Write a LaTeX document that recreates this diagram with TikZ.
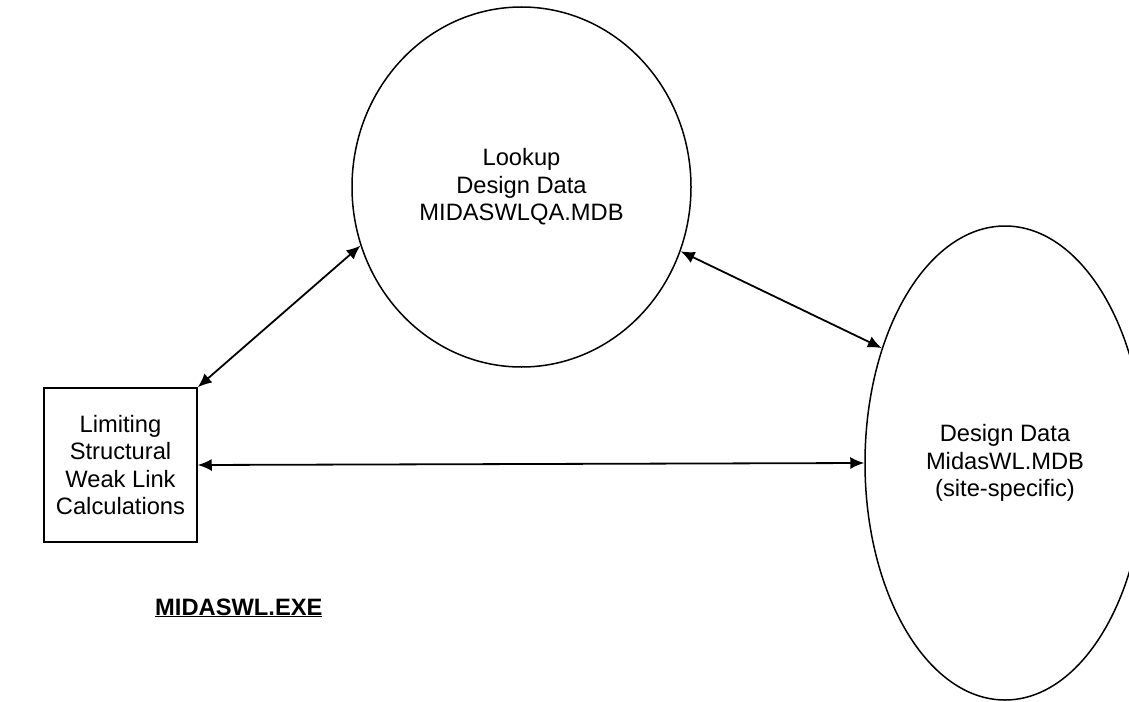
\documentclass[tikz,border=0pt]{standalone}
\usepackage{fontspec}
\setmainfont{Liberation Sans}
\usepackage{tikz}
\usetikzlibrary{shapes.geometric,arrows.meta}

\tikzset{
	datastore/.style={draw,ellipse,line width=1.5pt,inner sep=0pt,align=center},
	process/.style={draw,rectangle,line width=1.5pt,inner sep=0pt,align=center},
	flow/.style={{Latex[length=14pt,width=12pt]}-{Latex[length=14pt,width=12pt]},line width=1.8pt}
}

\begin{document}
\begin{tikzpicture}[x=1pt,y=-1pt,font=\fontsize{23.7}{27.5}\selectfont]
			\useasboundingbox (0,0) rectangle (1129,701);
			\node[datastore,minimum width=339pt,minimum height=360pt] (lookup) at (521.5,187)
			{Lookup\\Design Data\\MIDASWLQA.MDB};
			\node[datastore,minimum width=280pt,minimum height=474pt] (sitedata) at (1005,463)
			{Design Data\\MidasWL.MDB\\(site-specific)};
			\node[process,minimum width=153pt,minimum height=154pt] (calc) at (120.5,465)
			{Limiting\\Structural\\Weak Link\\Calculations};
			\node[anchor=base west,inner sep=0pt] (exe) at (155,615) {\bfseries\underline{MIDASWL.EXE}};
			% flows
			\draw[flow] (calc.north east) -- (lookup.200);
			\draw[flow] (lookup.-22) -- (sitedata.137);
			\draw[flow] (calc.east) -- (sitedata.west);
		\end{tikzpicture}
\end{document}
